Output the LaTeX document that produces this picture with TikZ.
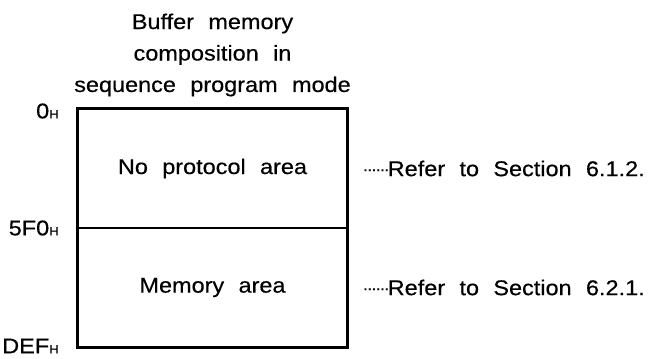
\documentclass[tikz,border=0pt]{standalone}
\usepackage{fontspec}
\setmainfont{Liberation Sans}[WordSpace=2.2, FakeStretch=1.1, FakeBold=0.4]
\usepackage{tikz}
\tikzstyle{area}=[draw, line width=0.9pt, inner sep=0pt,
                  minimum width=201.75pt, minimum height=89.25pt,
                  font=\fontsize{16}{20}\selectfont]
\tikzstyle{frame}=[line width=2.2pt, line join=miter]
\tikzstyle{title}=[align=center, inner sep=0pt,
                   font=\fontsize{16}{23.6}\selectfont]
\tikzstyle{addr}=[anchor=east, inner sep=0pt,
                  font=\fontsize{16}{20}\selectfont]
\tikzstyle{note}=[anchor=west, inner sep=0pt,
                  font=\fontsize{16}{20}\selectfont]
\newcommand{\hex}[1]{#1{\fontsize{9}{9}\selectfont H}}
\newcommand{\refdots}{\raisebox{1.2pt}{\fontsize{12}{12}\selectfont
  \foreach \i in {1,...,6}{\kern-.05em·\kern-.05em}}\kern-.05em}

\begin{document}
\begin{tikzpicture}[x=0.75pt, y=-0.75pt]
     \useasboundingbox (0,0) rectangle (658,359);
     \node (title) at (212.5,55) [title]
           {Buffer memory\\composition in\\sequence program mode};

     % the two areas of the buffer memory
     \node (proto) at (212.5,168.5) [area] {No protocol area};
     \node (mem)   at (212.5,287.5) [area] {Memory area};
     \draw [frame] (proto.north west) rectangle (mem.south east);

     % addresses
     \node (a0)   at (59,111) [addr] {\hex{0}};
     \node (a5f0) at (59,228) [addr] {\hex{5F0}};
     \node (adef) at (59,346) [addr] {\hex{DEF}};

     % references
     \node (ref1) at (363,168.5) [note] {\refdots Refer to Section 6.1.2.};
     \node (ref2) at (363,287.5) [note] {\refdots Refer to Section 6.2.1.};
\end{tikzpicture}
\end{document}
